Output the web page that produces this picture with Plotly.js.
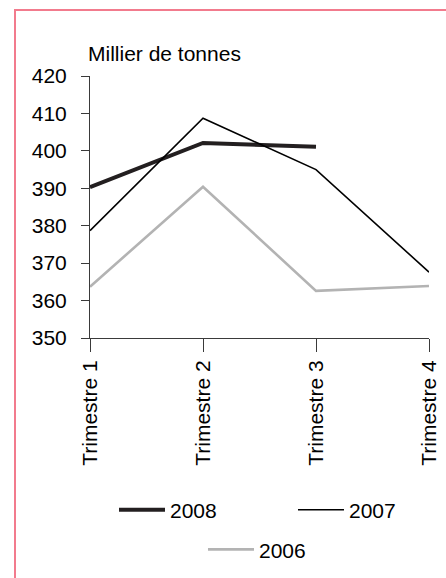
<!DOCTYPE html>
<html>
<head>
<meta charset="utf-8">
<script src="https://cdn.plot.ly/plotly-3.0.1.min.js"></script>
<style>
  html, body { margin: 0; padding: 0; background: #ffffff; }
  #frame { position: absolute; left: 14px; top: 9px; width: 600px; height: 700px;
           border-left: 2px solid #f27b8d; border-top: 2px solid #f27b8d; box-sizing: border-box; }
  #chart { position: absolute; left: 0; top: 0; width: 446px; height: 578px; }
</style>
</head>
<body>
<div id="frame"></div>
<div id="chart"></div>
<script>
const categories = ["Trimestre 1", "Trimestre 2", "Trimestre 3", "Trimestre 4"];
const values2008 = [390.3, 402.1, 401.1];
const values2007 = [378.7, 408.7, 395.0, 367.6];
const values2006 = [363.7, 390.4, 362.6, 363.9];
const yTicks = [350, 360, 370, 380, 390, 400, 410, 420];

const FONT = "'Liberation Sans', Arial, sans-serif";

const traces = [
  { x: categories.slice(0, values2008.length), y: values2008, name: "2008", type: "scatter", mode: "lines",
    line: { color: "#231f20", width: 4 }, legend: "legend" },
  { x: categories, y: values2007, name: "2007", type: "scatter", mode: "lines",
    line: { color: "#000000", width: 1.6 }, legend: "legend2" },
  { x: categories, y: values2006, name: "2006", type: "scatter", mode: "lines",
    line: { color: "#b3b3b3", width: 2.6 }, legend: "legend3" }
];

function legendBox(x, y) {
  return {
    orientation: "h", x: x, xanchor: "left", y: y, yanchor: "middle",
    font: { family: FONT, size: 21, color: "#000" },
    bgcolor: "rgba(0,0,0,0)", itemwidth: 46, borderwidth: 0
  };
}

const layout = {
  width: 446, height: 578,
  paper_bgcolor: "rgba(0,0,0,0)", plot_bgcolor: "rgba(0,0,0,0)",
  margin: { l: 90, r: 17, t: 76, b: 240, pad: 0, autoexpand: false },
  font: { family: FONT, size: 21, color: "#000000" },
  showlegend: true,
  xaxis: {
    type: "category", range: [0, 3], showgrid: false, zeroline: false,
    showline: true, linecolor: "#3a3a3a", linewidth: 1,
    ticks: "outside", ticklen: 13, tickcolor: "#3a3a3a", tickwidth: 1,
    tickangle: -90, tickfont: { family: FONT, size: 21, color: "#000" },
    ticklabelstandoff: 10.5
  },
  yaxis: {
    range: [350, 420], tickvals: yTicks, showgrid: false, zeroline: false,
    showline: true, linecolor: "#3a3a3a", linewidth: 1,
    ticks: "outside", ticklen: 8, tickcolor: "#3a3a3a", tickwidth: 1,
    tickfont: { family: FONT, size: 21, color: "#000" },
    ticklabelstandoff: 10
  },
  legend: legendBox(0.0708, -0.657),
  legend2: legendBox(0.5988, -0.657),
  legend3: legendBox(0.3333, -0.808),
  annotations: [
    { text: "Millier de tonnes", xref: "paper", yref: "paper", x: 0, y: 1.0874, xshift: -4,
      xanchor: "left", yanchor: "middle", showarrow: false,
      font: { family: FONT, size: 21, color: "#000" } }
  ]
};

Plotly.newPlot("chart", traces, layout, { displayModeBar: false, staticPlot: true });
</script>
</body>
</html>
